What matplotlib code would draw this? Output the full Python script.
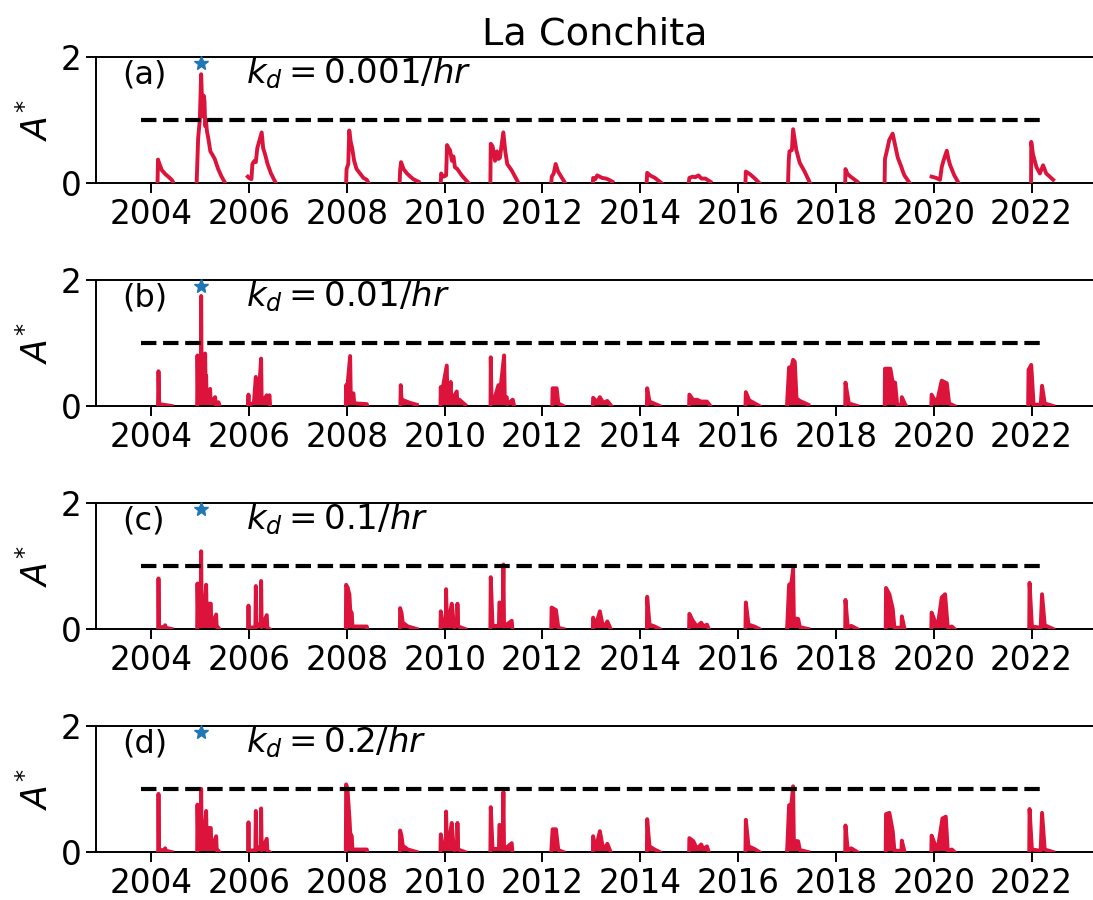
#!/usr/bin/env python
"""La Conchita: normalised A* for four decay rates k_d, 2004-2022."""
import matplotlib
matplotlib.use("Agg")
import matplotlib.pyplot as plt
import numpy as np

# ── data (decimal year, A*) ────────────────────────────────────────────
panel_tags = ["(a)", "(b)", "(c)", "(d)"]
kd_labels = [r"$k_d = 0.001/hr$", r"$k_d = 0.01/hr$", r"$k_d = 0.1/hr$", r"$k_d = 0.2/hr$"]
year_ticks = list(range(2004, 2023, 2))
threshold = 1.0
threshold_span = (2003.79, 2022.29)
star_time = 2005.02
star_value = 1.9

events_a = [
    [(2004.130, 0.0), (2004.140, 0.37), (2004.17, 0.30), (2004.22, 0.20), (2004.29, 0.14),
     (2004.35, 0.10), (2004.42, 0.05), (2004.443, 0.02)],
    [(2004.930, 0.0), (2004.960, 0.7), (2004.995, 1.0), (2005.022, 1.72), (2005.04, 1.3),
     (2005.06, 1.05), (2005.075, 1.38), (2005.09, 1.3), (2005.105, 0.9), (2005.12, 1.0),
     (2005.14, 0.82), (2005.17, 0.7), (2005.21, 0.5), (2005.25, 0.45), (2005.30, 0.38),
     (2005.37, 0.22), (2005.44, 0.10), (2005.513, 0.0)],
    [(2005.976, 0.1), (2006.00, 0.08), (2006.05, 0.06), (2006.07, 0.3), (2006.11, 0.35),
     (2006.14, 0.33), (2006.17, 0.55), (2006.26, 0.80), (2006.29, 0.55), (2006.33, 0.45),
     (2006.38, 0.30), (2006.45, 0.15), (2006.548, 0.0)],
    [(2007.986, 0.0), (2007.995, 0.22), (2008.03, 0.30), (2008.05, 0.83), (2008.08, 0.65),
     (2008.11, 0.55), (2008.15, 0.35), (2008.20, 0.22), (2008.27, 0.15), (2008.34, 0.08),
     (2008.41, 0.05), (2008.443, 0.0)],
    [(2009.08, 0.0), (2009.09, 0.20), (2009.11, 0.33), (2009.16, 0.22), (2009.23, 0.15),
     (2009.30, 0.10), (2009.36, 0.06), (2009.465, 0.02)],
    [(2009.921, 0.0), (2009.93, 0.15), (2009.95, 0.12), (2009.98, 0.10), (2010.03, 0.12),
     (2010.05, 0.6), (2010.08, 0.55), (2010.11, 0.52), (2010.15, 0.35), (2010.18, 0.42),
     (2010.21, 0.25), (2010.26, 0.22), (2010.35, 0.12), (2010.487, 0.0)],
    [(2010.935, 0.0), (2010.943, 0.62), (2010.98, 0.58), (2011.03, 0.35), (2011.07, 0.50),
     (2011.10, 0.38), (2011.13, 0.40), (2011.20, 0.80), (2011.24, 0.50), (2011.28, 0.30),
     (2011.37, 0.20), (2011.509, 0.0)],
    [(2012.18, 0.0), (2012.19, 0.10), (2012.23, 0.15), (2012.27, 0.30), (2012.32, 0.18),
     (2012.40, 0.08), (2012.463, 0.0)],
    [(2013.03, 0.0), (2013.036, 0.08), (2013.08, 0.06), (2013.12, 0.12), (2013.17, 0.10),
     (2013.22, 0.08), (2013.30, 0.07), (2013.36, 0.05), (2013.43, 0.02)],
    [(2014.13, 0.0), (2014.141, 0.16), (2014.20, 0.12), (2014.30, 0.08), (2014.43, 0.0)],
    [(2014.99, 0.0), (2015.004, 0.08), (2015.07, 0.10), (2015.12, 0.09), (2015.19, 0.12),
     (2015.25, 0.07), (2015.33, 0.07), (2015.433, 0.02)],
    [(2016.15, 0.0), (2016.158, 0.18), (2016.24, 0.14), (2016.33, 0.08), (2016.434, 0.0)],
    [(2017.021, 0.0), (2017.035, 0.35), (2017.05, 0.50), (2017.10, 0.52), (2017.125, 0.85),
     (2017.19, 0.52), (2017.26, 0.32), (2017.36, 0.18), (2017.47, 0.0)],
    [(2018.19, 0.0), (2018.195, 0.22), (2018.24, 0.14), (2018.30, 0.10), (2018.437, 0.02)],
    [(2018.995, 0.0), (2019.003, 0.38), (2019.06, 0.57), (2019.09, 0.68), (2019.16, 0.78),
     (2019.265, 0.40), (2019.34, 0.25), (2019.36, 0.20), (2019.40, 0.12), (2019.507, 0.0)],
    [(2019.956, 0.10), (2020.05, 0.08), (2020.128, 0.05), (2020.163, 0.25), (2020.198, 0.35),
     (2020.267, 0.51), (2020.30, 0.38), (2020.336, 0.28), (2020.42, 0.12), (2020.508, 0.0)],
    [(2021.99, 0.0), (2021.993, 0.65), (2022.03, 0.45), (2022.10, 0.25), (2022.17, 0.15),
     (2022.235, 0.28), (2022.30, 0.15), (2022.40, 0.08), (2022.442, 0.05)],
]

events_b = [
    [(2004.140, 0.0), (2004.150, 0.55), (2004.165, 0.03), (2004.25, 0.02), (2004.42, 0.0)],
    [(2004.94, 0.0), (2004.947, 0.80), (2004.96, 0.1), (2005.015, 0.2), (2005.022, 1.74),
     (2005.035, 0.1), (2005.06, 0.3), (2005.104, 0.83), (2005.115, 0.2), (2005.124, 0.48),
     (2005.135, 0.1), (2005.206, 0.27), (2005.215, 0.05), (2005.308, 0.14), (2005.32, 0.02),
     (2005.376, 0.06), (2005.40, 0.0)],
    [(2005.976, 0.0), (2005.99, 0.18), (2006.00, 0.02), (2006.10, 0.05), (2006.140, 0.46),
     (2006.15, 0.1), (2006.18, 0.27), (2006.19, 0.05), (2006.248, 0.75), (2006.26, 0.05),
     (2006.364, 0.17), (2006.37, 0.05), (2006.419, 0.17), (2006.432, 0.0)],
    [(2007.98, 0.0), (2007.986, 0.33), (2008.00, 0.2), (2008.068, 0.79), (2008.08, 0.2),
     (2008.136, 0.20), (2008.15, 0.05), (2008.20, 0.04), (2008.409, 0.03), (2008.42, 0.0)],
    [(2009.095, 0.0), (2009.103, 0.33), (2009.12, 0.09), (2009.158, 0.09), (2009.29, 0.05),
     (2009.43, 0.02)],
    [(2009.915, 0.0), (2009.921, 0.30), (2009.93, 0.15), (2010.044, 0.64), (2010.055, 0.2),
     (2010.078, 0.30), (2010.09, 0.1), (2010.125, 0.38), (2010.135, 0.1), (2010.167, 0.12),
     (2010.248, 0.23), (2010.26, 0.05), (2010.30, 0.1), (2010.419, 0.02)],
    [(2010.938, 0.0), (2010.943, 0.77), (2010.96, 0.05), (2010.998, 0.06), (2011.100, 0.33),
     (2011.11, 0.05), (2011.216, 0.80), (2011.23, 0.1), (2011.270, 0.14), (2011.28, 0.03),
     (2011.393, 0.10), (2011.42, 0.0)],
    [(2012.20, 0.0), (2012.207, 0.28), (2012.29, 0.28), (2012.325, 0.04), (2012.428, 0.0)],
    [(2013.03, 0.0), (2013.036, 0.13), (2013.119, 0.06), (2013.174, 0.14), (2013.243, 0.05),
     (2013.326, 0.08), (2013.409, 0.0)],
    [(2014.135, 0.0), (2014.141, 0.28), (2014.189, 0.07), (2014.397, 0.0)],
    [(2014.998, 0.0), (2015.004, 0.18), (2015.087, 0.09), (2015.156, 0.10), (2015.246, 0.07),
     (2015.363, 0.07), (2015.433, 0.0)],
    [(2016.15, 0.0), (2016.158, 0.22), (2016.227, 0.09), (2016.434, 0.0)],
    [(2017.0, 0.0), (2017.007, 0.12), (2017.042, 0.61), (2017.090, 0.61), (2017.125, 0.73),
     (2017.159, 0.70), (2017.194, 0.12), (2017.263, 0.08), (2017.435, 0.02)],
    [(2018.19, 0.0), (2018.195, 0.37), (2018.264, 0.04), (2018.437, 0.0)],
    [(2018.998, 0.0), (2019.003, 0.59), (2019.113, 0.59), (2019.162, 0.37), (2019.210, 0.37),
     (2019.252, 0.02), (2019.340, 0.02), (2019.348, 0.14), (2019.417, 0.02), (2019.438, 0.0)],
    [(2019.95, 0.0), (2019.956, 0.18), (2020.060, 0.04), (2020.163, 0.40), (2020.267, 0.36),
     (2020.315, 0.04), (2020.426, 0.0)],
    [(2021.93, 0.0), (2021.938, 0.57), (2021.993, 0.65), (2022.042, 0.02), (2022.186, 0.02),
     (2022.214, 0.32), (2022.269, 0.04), (2022.442, 0.0)],
]

events_c = [
    [(2004.143, 0.0), (2004.150, 0.80), (2004.16, 0.03), (2004.27, 0.03), (2004.286, 0.06),
     (2004.30, 0.02), (2004.42, 0.0)],
    [(2004.94, 0.0), (2004.947, 0.72), (2004.96, 0.2), (2005.01, 0.3), (2005.022, 1.23),
     (2005.035, 0.1), (2005.07, 0.43), (2005.08, 0.2), (2005.124, 0.70), (2005.135, 0.2),
     (2005.172, 0.40), (2005.22, 0.40), (2005.23, 0.05), (2005.329, 0.23), (2005.34, 0.03),
     (2005.376, 0.02), (2005.39, 0.0)],
    [(2005.98, 0.0), (2005.99, 0.37), (2006.00, 0.02), (2006.13, 0.03), (2006.140, 0.68),
     (2006.15, 0.03), (2006.24, 0.1), (2006.248, 0.76), (2006.26, 0.03), (2006.364, 0.22),
     (2006.375, 0.02), (2006.419, 0.0)],
    [(2007.98, 0.0), (2007.986, 0.70), (2008.02, 0.65), (2008.054, 0.54), (2008.07, 0.30),
     (2008.102, 0.25), (2008.115, 0.04), (2008.409, 0.04), (2008.42, 0.0)],
    [(2009.085, 0.0), (2009.090, 0.33), (2009.12, 0.25), (2009.144, 0.10), (2009.25, 0.04),
     (2009.43, 0.0)],
    [(2009.915, 0.0), (2009.921, 0.28), (2009.962, 0.10), (2010.025, 0.1), (2010.030, 0.63),
     (2010.04, 0.3), (2010.078, 0.12), (2010.146, 0.40), (2010.16, 0.3), (2010.194, 0.03),
     (2010.255, 0.05), (2010.262, 0.40), (2010.275, 0.04), (2010.419, 0.0)],
    [(2010.935, 0.0), (2010.943, 0.82), (2010.98, 0.05), (2011.11, 0.05), (2011.120, 0.42),
     (2011.19, 0.40), (2011.202, 1.02), (2011.215, 0.04), (2011.372, 0.13), (2011.385, 0.0)],
    [(2012.18, 0.0), (2012.187, 0.34), (2012.276, 0.30), (2012.325, 0.02), (2012.428, 0.0)],
    [(2013.03, 0.0), (2013.036, 0.18), (2013.085, 0.04), (2013.174, 0.28), (2013.223, 0.09),
     (2013.271, 0.04), (2013.326, 0.12), (2013.395, 0.0)],
    [(2014.135, 0.0), (2014.141, 0.51), (2014.189, 0.07), (2014.293, 0.04), (2014.397, 0.0)],
    [(2014.998, 0.0), (2015.004, 0.24), (2015.067, 0.14), (2015.156, 0.04), (2015.246, 0.10),
     (2015.294, 0.04), (2015.363, 0.07), (2015.40, 0.0)],
    [(2016.15, 0.0), (2016.158, 0.42), (2016.213, 0.07), (2016.330, 0.04), (2016.434, 0.0)],
    [(2017.0, 0.0), (2017.007, 0.09), (2017.042, 0.70), (2017.090, 0.73), (2017.125, 0.95),
     (2017.140, 0.17), (2017.228, 0.16), (2017.263, 0.03), (2017.435, 0.0)],
    [(2018.19, 0.0), (2018.195, 0.46), (2018.243, 0.02), (2018.312, 0.05), (2018.437, 0.0)],
    [(2019.018, 0.0), (2019.024, 0.65), (2019.093, 0.55), (2019.162, 0.32), (2019.196, 0.02),
     (2019.340, 0.02), (2019.348, 0.20), (2019.403, 0.0)],
    [(2019.95, 0.0), (2019.956, 0.26), (2020.025, 0.12), (2020.080, 0.04), (2020.163, 0.50),
     (2020.232, 0.55), (2020.287, 0.02), (2020.370, 0.04), (2020.426, 0.0)],
    [(2021.952, 0.0), (2021.959, 0.73), (2022.007, 0.04), (2022.186, 0.02), (2022.214, 0.55),
     (2022.269, 0.06), (2022.442, 0.0)],
]

events_d = [
    [(2004.143, 0.0), (2004.150, 0.92), (2004.16, 0.03), (2004.27, 0.03), (2004.286, 0.06),
     (2004.30, 0.02), (2004.42, 0.0)],
    [(2004.94, 0.0), (2004.947, 0.75), (2004.96, 0.2), (2005.01, 0.3), (2005.022, 1.00),
     (2005.035, 0.1), (2005.07, 0.38), (2005.08, 0.2), (2005.124, 0.65), (2005.135, 0.2),
     (2005.172, 0.38), (2005.22, 0.38), (2005.23, 0.05), (2005.329, 0.25), (2005.34, 0.03),
     (2005.376, 0.02), (2005.39, 0.0)],
    [(2005.98, 0.0), (2005.99, 0.47), (2006.00, 0.02), (2006.13, 0.03), (2006.140, 0.65),
     (2006.15, 0.03), (2006.24, 0.1), (2006.248, 0.69), (2006.26, 0.03), (2006.364, 0.21),
     (2006.375, 0.02), (2006.419, 0.0)],
    [(2007.98, 0.0), (2007.986, 1.07), (2008.013, 1.0), (2008.054, 0.54), (2008.07, 0.30),
     (2008.102, 0.25), (2008.115, 0.04), (2008.409, 0.04), (2008.42, 0.0)],
    [(2009.085, 0.0), (2009.090, 0.34), (2009.12, 0.25), (2009.144, 0.10), (2009.25, 0.04),
     (2009.43, 0.0)],
    [(2009.915, 0.0), (2009.921, 0.28), (2009.962, 0.10), (2010.025, 0.1), (2010.030, 0.64),
     (2010.04, 0.3), (2010.078, 0.12), (2010.146, 0.46), (2010.16, 0.3), (2010.194, 0.03),
     (2010.255, 0.05), (2010.262, 0.46), (2010.275, 0.04), (2010.419, 0.0)],
    [(2010.935, 0.0), (2010.943, 0.71), (2010.98, 0.05), (2011.11, 0.05), (2011.120, 0.43),
     (2011.19, 0.40), (2011.202, 0.95), (2011.215, 0.04), (2011.372, 0.14), (2011.385, 0.0)],
    [(2012.18, 0.0), (2012.207, 0.36), (2012.276, 0.36), (2012.325, 0.03), (2012.428, 0.0)],
    [(2013.03, 0.0), (2013.036, 0.25), (2013.085, 0.04), (2013.174, 0.33), (2013.223, 0.12),
     (2013.271, 0.04), (2013.326, 0.13), (2013.395, 0.0)],
    [(2014.135, 0.0), (2014.141, 0.52), (2014.189, 0.09), (2014.293, 0.04), (2014.397, 0.0)],
    [(2014.998, 0.0), (2015.004, 0.22), (2015.087, 0.17), (2015.156, 0.05), (2015.246, 0.12),
     (2015.294, 0.04), (2015.363, 0.09), (2015.40, 0.0)],
    [(2016.15, 0.0), (2016.158, 0.51), (2016.213, 0.09), (2016.330, 0.05), (2016.434, 0.0)],
    [(2017.0, 0.0), (2017.007, 0.10), (2017.042, 0.74), (2017.090, 0.76), (2017.125, 1.04),
     (2017.140, 0.18), (2017.228, 0.17), (2017.263, 0.03), (2017.435, 0.0)],
    [(2018.19, 0.0), (2018.195, 0.42), (2018.243, 0.02), (2018.312, 0.06), (2018.437, 0.0)],
    [(2019.018, 0.0), (2019.024, 0.60), (2019.093, 0.62), (2019.162, 0.33), (2019.196, 0.02),
     (2019.340, 0.02), (2019.348, 0.18), (2019.403, 0.0)],
    [(2019.95, 0.0), (2019.956, 0.26), (2020.025, 0.12), (2020.080, 0.04), (2020.177, 0.53),
     (2020.246, 0.56), (2020.287, 0.02), (2020.370, 0.04), (2020.426, 0.0)],
    [(2021.952, 0.0), (2021.959, 0.68), (2022.007, 0.04), (2022.186, 0.02), (2022.214, 0.62),
     (2022.269, 0.04), (2022.442, 0.0)],
]


def _series(events):
    """Join event segments into one array with NaN gaps between seasons."""
    t, v = [], []
    for seg in events:
        t.extend(p[0] for p in seg)
        v.extend(p[1] for p in seg)
        t.append(np.nan)
        v.append(np.nan)
    return np.array(t), np.array(v)


def main() -> None:
    plt.rcParams["font.size"] = 23.5
    plt.rcParams["mathtext.fontset"] = "dejavusans"

    fig = plt.figure(figsize=(10.93, 9.0), dpi=100)
    left, width, height = 0.088, 0.912, 0.1405
    bottoms = [0.7967, 0.5489, 0.3011, 0.0533]

    for k, events in enumerate([events_a, events_b, events_c, events_d]):
        ax = fig.add_axes([left, bottoms[k], width, height])
        t, v = _series(events)
        ax.plot(t, v, color="crimson", lw=2.8, zorder=3)
        if k > 0:
            ax.fill_between(t, 0, v, color="crimson", lw=0, zorder=2)
        ax.plot(list(threshold_span), [threshold, threshold], "k--", lw=3, zorder=4)
        ax.plot(star_time, star_value, marker="*", ms=10, color="tab:blue",
                ls="none", zorder=5, clip_on=False)
        ax.text(2003.4, 1.58, panel_tags[k], va="baseline", ha="left", fontsize=23)
        ax.text(2005.93, 1.58, kd_labels[k], va="baseline", ha="left", fontsize=24.5)

        ax.set_xlim(2002.876, 2023.256)
        ax.set_ylim(0, 2)
        ax.set_yticks([0, 2])
        ax.set_xticks(year_ticks)
        ax.set_xticklabels([str(y) for y in year_ticks])
        ax.set_ylabel(r"$A^{*}$", fontsize=25)
        ax.spines["right"].set_visible(False)
        for s in ("left", "top", "bottom"):
            ax.spines[s].set_linewidth(1.4)
        ax.tick_params(length=7, width=1.4)
        if k == 0:
            ax.set_title("La Conchita", fontsize=27.5, pad=9)

    fig.savefig("out.png", dpi=100)
    plt.close(fig)


if __name__ == "__main__":
    main()
